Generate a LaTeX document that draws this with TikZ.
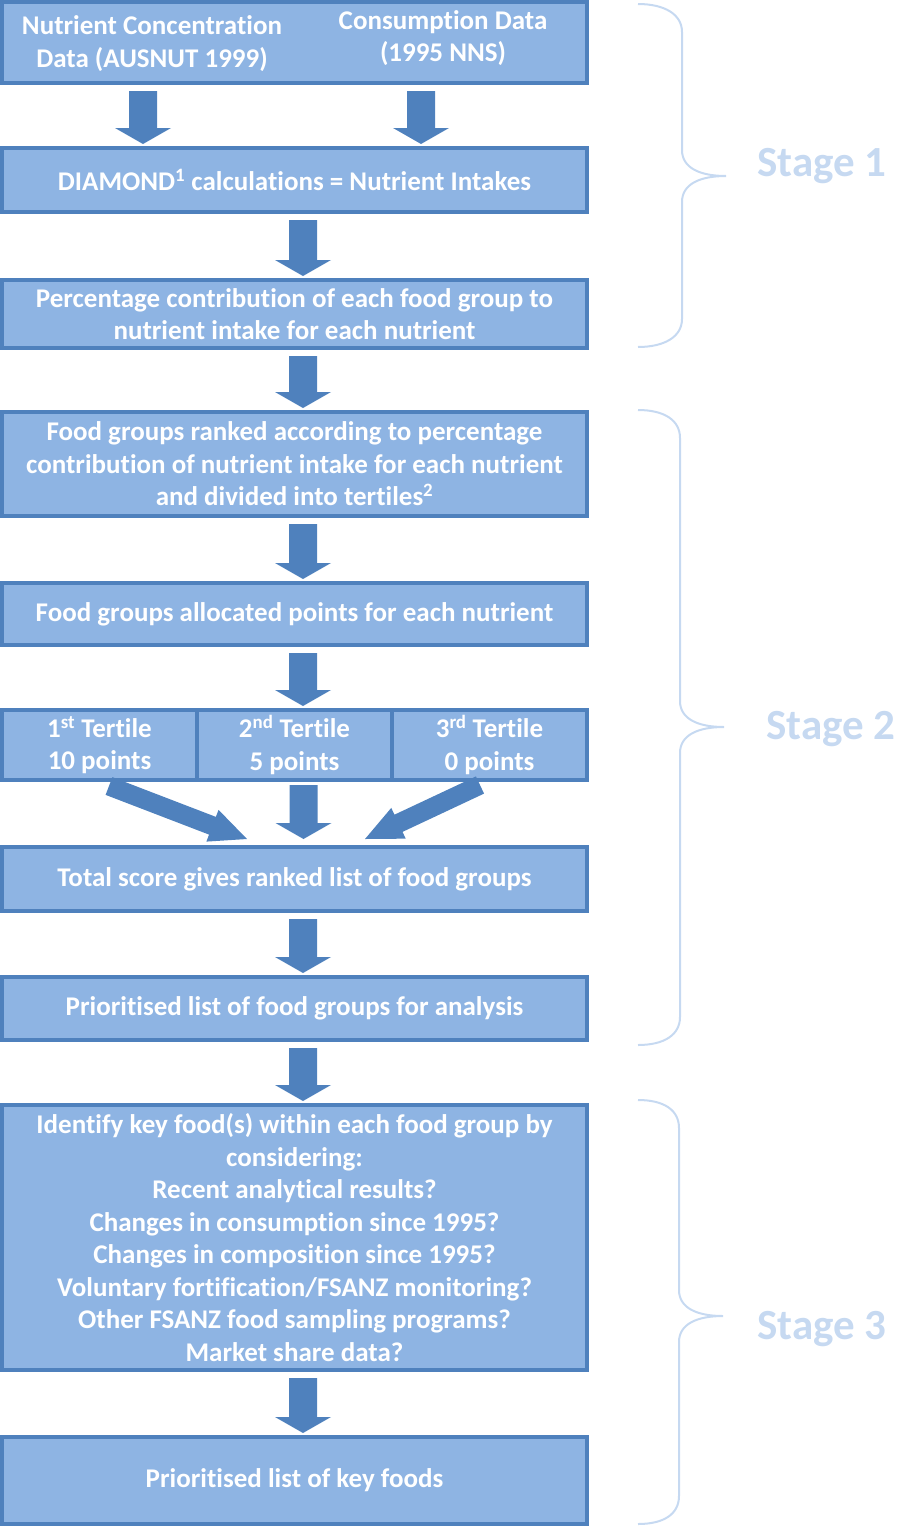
\documentclass[tikz,border=0pt]{standalone}
\usepackage{fontspec}
\setmainfont{Carlito}[Ligatures=NoCommon]
\usetikzlibrary{calc}
\definecolor{boxfill}{HTML}{8EB4E3}
\definecolor{boxline}{HTML}{4F81BD}
\definecolor{arrcol}{HTML}{4F81BD}
\definecolor{stagecol}{HTML}{C6D9F1}
\tikzset{
  flowbox/.style={draw=boxline, fill=boxfill, line width=4pt, minimum width=585pt,
    inner sep=0pt, text=white, font=\bfseries\fontsize{27}{32.5}\selectfont, align=center},
  tertbox/.style={flowbox, minimum width=195pt, minimum height=70pt},
  lbl/.style={text=white, font=\bfseries\fontsize{27}{32.5}\selectfont, align=center, inner sep=0pt},
  bracestyle/.style={draw=stagecol, line width=2pt},
  stagelbl/.style={text=stagecol, font=\bfseries\fontsize{43}{45}\selectfont, inner sep=0pt},
  arrowfill/.style={fill=arrcol}
}
% #1 start, #2 end, #3 shaft half width, #4 head half width, #5 head length
\newcommand\blockarrowx[5]{%
  \coordinate (ha) at ($(#2)!#5!(#1)$);
  \fill[arrowfill] ($(#1)!#3!90:(#2)$) -- ($(ha)!#3!90:(#2)$) -- ($(ha)!#4!90:(#2)$)
    -- (#2) -- ($(ha)!#4!-90:(#2)$) -- ($(ha)!#3!-90:(#2)$) -- ($(#1)!#3!-90:(#2)$) -- cycle;
}
\newcommand\blockarrow[2]{\blockarrowx{#1}{#2}{14pt}{28pt}{16pt}}
\newcommand\stagebrace[4]{% x of vertical, top, tip y, bottom
  \draw[bracestyle] (638,#2) .. controls (664,#2) and (#1,#2+10) .. (#1,#2+28)
    -- (#1,#3-26) .. controls (#1,#3-8) and (#1+18,#3) .. (#1+44,#3)
    (#1+44,#3) .. controls (#1+18,#3) and (#1,#3+8) .. (#1,#3+26)
    -- (#1,#4-28) .. controls (#1,#4-10) and (664,#4) .. (638,#4);
}
\begin{document}
\begin{tikzpicture}[x=1pt,y=-1pt]
\useasboundingbox (0,0) rectangle (898,1526);

% boxes
\node[flowbox, minimum height=81pt] (b1) at (294.5,42.5) {};
\node[lbl] (b1a) at (152,43.5) {Nutrient Concentration\\Data (AUSNUT 1999)};
\node[lbl] (b1b) at (443,38) {Consumption Data\\(1995 NNS)};
\node[flowbox, minimum height=64pt] (b2) at (294.5,180) {DIAMOND\textsuperscript{1} calculations = Nutrient Intakes};
\node[flowbox, minimum height=68pt] (b3) at (294.5,314) {Percentage contribution of each food group to\\nutrient intake for each nutrient};
\node[flowbox, minimum height=104pt] (b4) at (294.5,464) {Food groups ranked according to percentage\\contribution of nutrient intake for each nutrient\\and divided into tertiles\textsuperscript{2}};
\node[flowbox, minimum height=62pt] (b5) at (294.5,614) {Food groups allocated points for each nutrient};
\node[tertbox] (t1) at (99.5,745) {1\textsuperscript{st} Tertile\\10 points};
\node[tertbox] (t2) at (294.5,745) {2\textsuperscript{nd} Tertile\\5 points};
\node[tertbox] (t3) at (489.5,745) {3\textsuperscript{rd} Tertile\\0 points};
\node[flowbox, minimum height=64pt] (b7) at (294.5,879) {Total score gives ranked list of food groups};
\node[flowbox, minimum height=63pt] (b8) at (294.5,1008.5) {Prioritised list of food groups for analysis};
\node[flowbox, minimum height=265pt] (b9) at (294.5,1237.5) {Identify key food(s) within each food group by\\considering:\\Recent analytical results?\\Changes in consumption since 1995?\\Changes in composition since 1995?\\Voluntary fortification/FSANZ monitoring?\\Other FSANZ food sampling programs?\\Market share data?};
\node[flowbox, minimum height=87pt] (b10) at (294.5,1480.5) {Prioritised list of key foods};

% arrows
\coordinate (a1s) at ([xshift=-151.5pt,yshift=-6pt]b1.south);
\coordinate (a1e) at ([xshift=-151.5pt,yshift=2pt]b2.north);
\coordinate (a2s) at ([xshift=126.5pt,yshift=-6pt]b1.south);
\coordinate (a2e) at ([xshift=126.5pt,yshift=2pt]b2.north);
\blockarrow{a1s}{a1e}
\blockarrow{a2s}{a2e}
\foreach \s/\e in {b2/b3, b3/b4, b4/b5, b5/t2, b7/b8, b8/b9, b9/b10}{
  \coordinate (cs) at ([xshift=8.5pt,yshift=-6pt]\s.south);
  \coordinate (ce) at ([xshift=8.5pt,yshift=2pt]\e.north);
  \blockarrow{cs}{ce}
}
\coordinate (m2s) at ([xshift=9pt,yshift=-3pt]t2.south);
\coordinate (m2e) at ([xshift=9pt,yshift=6pt]b7.north);
\blockarrow{m2s}{m2e}
\coordinate (m1s) at (109,786);
\coordinate (m1e) at (247,839);
\blockarrowx{m1s}{m1e}{9.5pt}{17pt}{37pt}
\coordinate (m3s) at (480,785);
\coordinate (m3e) at (365,839);
\blockarrowx{m3s}{m3e}{9.5pt}{17pt}{37pt}

% braces
\stagebrace{682}{4}{176}{347}
\stagebrace{680}{410}{727}{1045}
\stagebrace{679}{1100}{1316}{1524}
\node[stagelbl] (s1) at (822,166) {Stage 1};
\node[stagelbl] (s2) at (831,729) {Stage 2};
\node[stagelbl] (s3) at (822,1329) {Stage 3};
\end{tikzpicture}
\end{document}
